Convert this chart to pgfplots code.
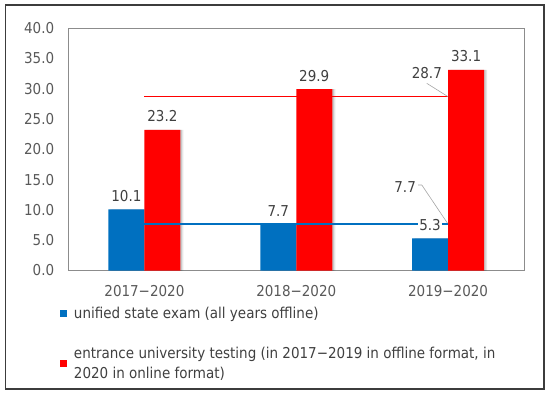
\documentclass[border=0pt]{standalone}
\usepackage{fontspec}
\setmainfont{DejaVu Sans Condensed}
\usepackage{pgfplots}
\pgfplotsset{compat=1.18}
\definecolor{xblue}{HTML}{0070C0}
\definecolor{xred}{HTML}{FF0000}
\definecolor{tickc}{HTML}{595959}
\definecolor{labc}{HTML}{404040}
\definecolor{axisgray}{HTML}{8C8C8C}
\definecolor{framec}{HTML}{3C3C3C}
\definecolor{leadc}{HTML}{A6A6A6}
\begin{document}
\begin{tikzpicture}
\path[use as bounding box] (0bp,0bp) rectangle (550bp,395bp);
\draw[framec, line width=1.6bp] (5.5bp,6bp) rectangle (544bp,390bp);
\begin{axis}[
  at={(68.5bp,124.5bp)}, anchor=south west, scale only axis,
  width=455.5bp, height=242.5bp,
  xmin=-0.5, xmax=2.5, ymin=0, ymax=40,
  xtick={0,1,2}, xticklabels={2017−2020,2018−2020,2019−2020},
  ytick={0,5,...,40},
  yticklabel={\pgfmathprintnumber[fixed,fixed zerofill,precision=1]{\tick}},
  /pgf/number format/assume math mode=true,
  major tick length=0pt,
  axis line style={axisgray, line width=0.8bp},
  tick label style={font=\fontsize{15bp}{18bp}\selectfont, text=tickc},
  yticklabel style={xshift=-10.8bp},
  xticklabel style={yshift=-11bp},
  clip=false,
  legend style={at={(axis description cs:-0.0187,-0.1505)}, anchor=north west,
    draw=none, fill=none, inner sep=0pt, row sep=27bp, column sep=6.6bp,
    font=\fontsize{15bp}{20bp}\selectfont, text=labc,
    nodes={inner sep=0pt}},
  legend cell align=left,
  bar width=36bp,
  every node near coord/.style={font=\fontsize{15bp}{18bp}\selectfont, text=labc,
    fill=white, inner xsep=1.5bp, inner ysep=1bp, anchor=south, yshift=6.5bp},
]
% shadows
\addplot[ybar, bar shift=-15bp, fill=black, opacity=0.10, draw=none, forget plot] coordinates {(0,10.1)(1,7.7)(2,5.3)};
\addplot[ybar, bar shift=-16.5bp, fill=black, opacity=0.12, draw=none, forget plot] coordinates {(0,10.1)(1,7.7)(2,5.3)};
\addplot[ybar, bar shift=21bp, fill=black, opacity=0.10, draw=none, forget plot] coordinates {(0,23.2)(1,29.9)(2,33.1)};
\addplot[ybar, bar shift=19.5bp, fill=black, opacity=0.12, draw=none, forget plot] coordinates {(0,23.2)(1,29.9)(2,33.1)};
% bars
\addplot[ybar, bar shift=-18bp, fill=xblue, draw=none,
  legend image code/.code={\fill[xblue] (0bp,-3.6bp) rectangle (7.2bp,3.6bp);}]
  coordinates {(0,10.1)(1,7.7)(2,5.3)};
\addlegendentry{unified state exam (all years offline)}
\addplot[ybar, bar shift=18bp, fill=xred, draw=none,
  legend image code/.code={\fill[xred] (0bp,-3.6bp) rectangle (7.2bp,3.6bp);}]
  coordinates {(0,23.2)(1,29.9)(2,33.1)};
\addlegendentry[align=left]{entrance university testing (in 2017−2019 in offline format, in\\2020 in online format)}
% lines
\addplot[xred, line width=1.9bp, sharp plot, mark=none, forget plot] coordinates {(0,28.7)(1,28.7)(2,28.7)};
\addplot[xblue, line width=1.9bp, sharp plot, mark=none, forget plot] coordinates {(0,7.7)(1,7.7)(2,7.7)};
% labels of bars
\addplot[ybar, bar shift=-18bp, draw=none, fill=none, forget plot, nodes near coords,
  nodes near coords={\pgfmathprintnumber[fixed,fixed zerofill,precision=1]{\pgfplotspointmeta}},
  every node near coord/.append style={xshift=-18bp}]
  coordinates {(0,10.1)(1,7.7)(2,5.3)};
\addplot[ybar, bar shift=18bp, draw=none, fill=none, forget plot, nodes near coords,
  nodes near coords={\pgfmathprintnumber[fixed,fixed zerofill,precision=1]{\pgfplotspointmeta}},
  every node near coord/.append style={xshift=18bp}]
  coordinates {(0,23.2)(1,29.9)(2,33.1)};
% labels of lines
\draw[leadc, line width=0.6bp] (axis cs:1.86,30.87) -- (axis cs:1.998,28.7);
\draw[leadc, line width=0.6bp] (axis cs:1.803,14.1) -- (axis cs:1.827,14.1) -- (axis cs:1.996,7.8);
\node[font=\fontsize{15bp}{18bp}\selectfont, text=labc] at (axis cs:1.86,32.63) {28.7};
\node[font=\fontsize{15bp}{18bp}\selectfont, text=labc] at (axis cs:1.717,13.82) {7.7};
\end{axis}
\end{tikzpicture}
\end{document}
